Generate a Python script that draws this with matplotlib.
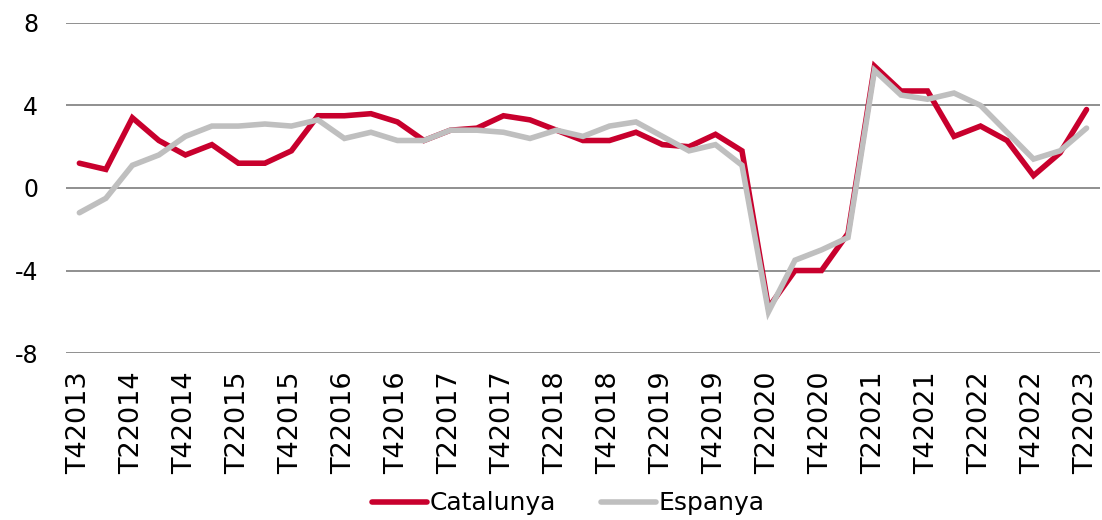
import matplotlib
matplotlib.use('Agg')
import matplotlib.pyplot as plt

# quarters T4 2013 .. T2 2023
quarters = ['T42013',
            'T12014', 'T22014', 'T32014', 'T42014',
            'T12015', 'T22015', 'T32015', 'T42015',
            'T12016', 'T22016', 'T32016', 'T42016',
            'T12017', 'T22017', 'T32017', 'T42017',
            'T12018', 'T22018', 'T32018', 'T42018',
            'T12019', 'T22019', 'T32019', 'T42019',
            'T12020', 'T22020', 'T32020', 'T42020',
            'T12021', 'T22021', 'T32021', 'T42021',
            'T12022', 'T22022', 'T32022', 'T42022',
            'T12023', 'T22023']

catalunya = [1.2, 0.9, 3.4, 2.3, 1.6, 2.1, 1.2, 1.2, 1.8, 3.5,
             3.5, 3.6, 3.2, 2.3, 2.8, 2.9, 3.5, 3.3, 2.8, 2.3,
             2.3, 2.7, 2.1, 2.0, 2.6, 1.8, -5.8, -4.0, -4.0, -2.2,
             5.9, 4.7, 4.7, 2.5, 3.0, 2.3, 0.6, 1.7, 3.8]

espanya = [-1.2, -0.5, 1.1, 1.6, 2.5, 3.0, 3.0, 3.1, 3.0, 3.3,
           2.4, 2.7, 2.3, 2.3, 2.8, 2.8, 2.7, 2.4, 2.8, 2.5,
           3.0, 3.2, 2.5, 1.8, 2.1, 1.1, -6.0, -3.5, -3.0, -2.4,
           5.7, 4.5, 4.3, 4.6, 4.0, 2.7, 1.4, 1.8, 2.9]

yticks = [-8, -4, 0, 4, 8]

plt.rcParams['font.family'] = ['DejaVu Sans']

fig = plt.figure(figsize=(11.02, 5.20), dpi=100)
ax = fig.add_axes([0.060, 0.321, 0.938, 0.635])

x = list(range(len(quarters)))
ax.plot(x, catalunya, color='#C8002D', lw=4, solid_capstyle='round',
        solid_joinstyle='miter', label='Catalunya', zorder=3)
ax.plot(x, espanya, color='#BFBFBF', lw=4, solid_capstyle='round',
        solid_joinstyle='miter', label='Espanya', zorder=4)

ax.set_xlim(-0.5, len(quarters) - 0.5)
ax.set_ylim(-8, 8)
ax.set_yticks(yticks)
ax.set_yticklabels([str(v) for v in yticks], fontsize=17)
ax.set_xticks(x[::2])
ax.set_xticklabels(quarters[::2], rotation=90, fontsize=19.5)
ax.tick_params(axis='y', length=0, pad=20)
ax.tick_params(axis='x', length=0, pad=13)
ax.grid(axis='y', color='#878787', lw=1.3)
ax.set_axisbelow(True)
for s in ax.spines.values():
    s.set_visible(False)

ax.legend(loc='center', bbox_to_anchor=(0.486, -0.455), ncol=2, frameon=False,
          fontsize=18, handlelength=2.2, handletextpad=0.1, columnspacing=1.8)

fig.savefig('out.png', dpi=100)
